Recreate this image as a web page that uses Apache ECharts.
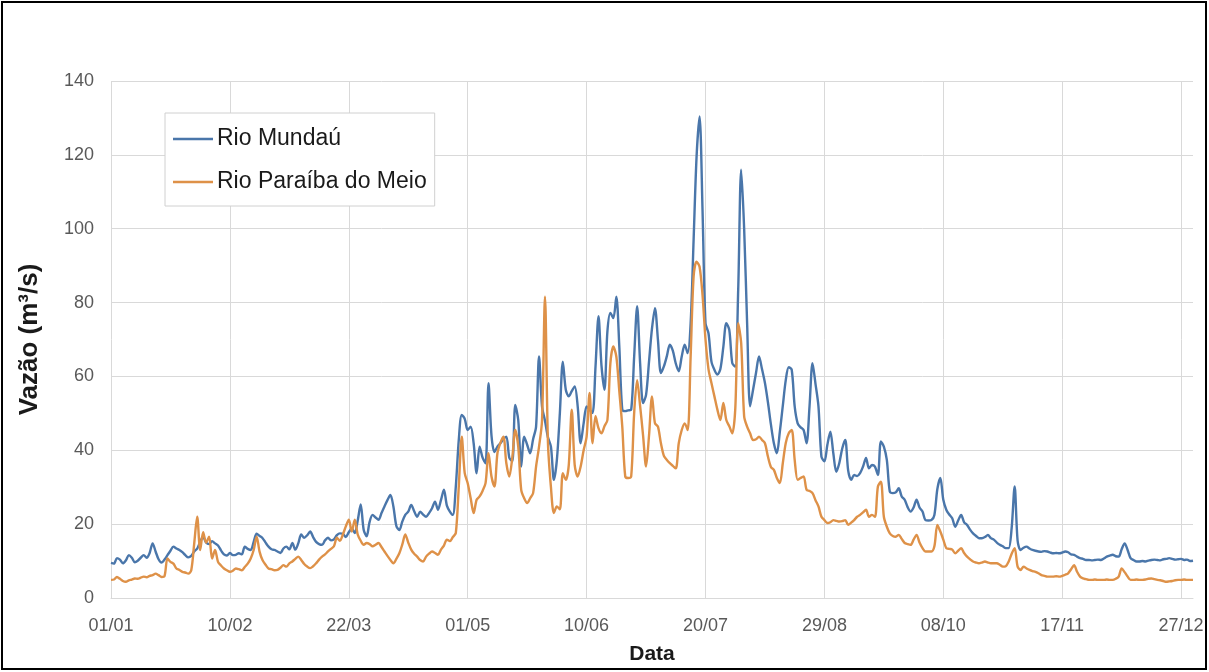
<!DOCTYPE html>
<html>
<head>
<meta charset="utf-8">
<script src="https://cdn.jsdelivr.net/npm/echarts@6/dist/echarts.min.js"></script>
<style>
  html, body { margin: 0; padding: 0; background: #fff; }
  #chart { width: 1209px; height: 672px; }
</style>
</head>
<body>
<div id="chart"></div>
<script>
// Daily discharge (m³/s), 01/01 to 31/12
const mundau = [
  9.5, 9.3, 10.8, 10.4, 9.4, 10.2, 11.6, 10.9, 9.7, 10.1,
  10.9, 11.6, 10.9, 12.2, 14.8, 12.6, 10.5, 9.6, 10.4, 11.6,
  12.8, 13.9, 13.4, 13.0, 12.4, 11.6, 11.0, 11.4, 12.6, 13.4,
  15.2, 16.6, 15.0, 14.6, 15.4, 14.8, 14.2, 12.9, 11.8, 11.5,
  12.2, 11.6, 11.7, 12.1, 11.8, 13.9, 13.3, 13.0, 15.2, 17.4,
  16.8, 16.2, 15.0, 13.9, 13.2, 13.0, 12.6, 12.2, 13.4, 13.9,
  13.2, 14.9, 13.1, 14.8, 17.2, 16.3, 17.0, 18.0, 16.5, 15.2,
  14.6, 14.4, 15.6, 16.3, 15.6, 15.9, 17.0, 17.5, 17.4, 16.5,
  17.8, 18.8, 17.6, 21.0, 25.3, 18.5, 16.7, 20.6, 22.5, 21.8,
  21.2, 23.0, 24.8, 26.5, 27.9, 24.8, 19.5, 18.4, 20.7, 22.5,
  23.4, 25.2, 23.5, 22.0, 23.4, 22.6, 22.0, 23.0, 24.3, 26.1,
  23.9, 26.5, 29.3, 25.0, 23.4, 22.5, 30.2, 42.8, 49.6, 48.5,
  45.5, 46.4, 41.9, 33.8, 41.0, 38.0, 36.5, 58.2, 44.0, 39.5,
  41.0, 41.9, 43.0, 43.7, 38.0, 37.0, 52.3, 48.2, 35.6, 43.7,
  41.5, 39.2, 43.0, 46.4, 65.4, 51.9, 48.0, 43.5, 41.0, 32.0,
  37.4, 50.0, 64.0, 56.4, 54.6, 56.0, 57.3, 51.9, 41.9, 47.3,
  51.9, 51.0, 50.1, 62.7, 76.3, 63.0, 56.4, 72.2, 77.2, 75.8,
  81.6, 68.1, 51.0, 50.6, 50.8, 51.0, 65.4, 79.0, 63.6, 52.8,
  55.0, 64.0, 73.0, 78.5, 69.9, 60.9, 62.7, 65.5, 68.6, 67.0,
  63.5, 61.4, 65.4, 68.6, 66.3, 74.4, 97.0, 119.6, 130.4, 105.0,
  74.4, 71.7, 64.0, 61.8, 60.5, 62.0, 68.0, 74.4, 72.6, 63.6,
  62.7, 83.5, 116.0, 100.0, 74.4, 51.9, 56.4, 61.0, 65.4, 62.0,
  58.2, 53.0, 47.0, 41.9, 39.2, 45.0, 52.0, 59.0, 62.5, 61.8,
  51.9, 47.3, 46.2, 45.5, 41.9, 52.0, 63.6, 58.0, 51.9, 38.3,
  37.0, 41.5, 45.0, 39.2, 34.2, 36.5, 40.5, 42.8, 34.5, 32.0,
  33.3, 33.0, 33.8, 35.6, 37.9, 35.1, 36.0, 35.6, 33.3, 42.4,
  41.0, 37.4, 28.8, 28.4, 28.6, 29.7, 27.5, 26.6, 24.6, 23.4,
  24.5, 26.6, 24.5, 23.4, 21.1, 21.0, 21.1, 22.5, 29.5, 32.5,
  26.6, 23.9, 22.6, 21.6, 19.3, 21.0, 22.5, 20.5, 19.8, 18.5,
  17.5, 16.8, 16.2, 16.2, 16.5, 17.1, 16.2, 15.8, 15.0, 14.4,
  14.0, 13.5, 13.5, 19.0, 30.2, 15.5, 13.0, 13.6, 13.9, 13.4,
  13.0, 12.8, 12.6, 12.5, 12.7, 12.6, 12.3, 12.1, 12.2, 12.1,
  12.3, 12.6, 12.4, 11.8, 11.7, 11.2, 10.8, 10.6, 10.3, 10.3,
  10.2, 10.3, 10.4, 10.3, 10.7, 11.2, 11.5, 11.7, 11.3, 11.2,
  13.2, 14.8, 13.0, 10.8, 10.3, 9.9, 9.9, 10.0, 9.9, 10.1,
  10.3, 10.4, 10.3, 10.2, 10.5, 10.6, 10.8, 10.6, 10.4, 10.5,
  10.6, 10.3, 10.4, 10.0, 10.1
];

const paraiba = [
  4.9, 5.0, 5.7, 5.2, 4.6, 4.4, 4.8, 5.0, 5.3, 5.2,
  5.5, 5.8, 5.6, 6.0, 6.2, 6.6, 6.2, 5.7, 5.9, 10.7,
  9.8, 9.3, 8.0, 7.6, 7.1, 6.9, 6.6, 7.5, 14.8, 22.0,
  13.0, 17.8, 15.0, 16.6, 10.7, 13.0, 9.8, 8.8, 8.0, 7.5,
  7.1, 7.4, 8.0, 7.8, 7.5, 8.4, 9.3, 10.7, 13.0, 16.6,
  12.5, 10.2, 9.0, 8.0, 7.8, 7.5, 7.6, 8.2, 8.9, 8.5,
  9.4, 9.9, 10.6, 11.2, 10.3, 9.2, 8.5, 8.1, 8.6, 9.4,
  10.4, 11.2, 11.8, 12.6, 13.3, 14.0, 16.3, 15.5, 17.2, 19.4,
  21.2, 18.0, 21.2, 17.2, 15.5, 14.4, 14.9, 14.6, 14.0, 14.4,
  14.9, 13.8, 12.6, 11.4, 10.3, 9.4, 10.6, 12.1, 14.5, 17.2,
  15.0, 13.1, 12.0, 11.2, 10.3, 9.9, 11.2, 12.0, 12.6, 12.2,
  11.7, 13.1, 14.2, 15.8, 15.4, 16.5, 17.6, 30.2, 43.7, 33.8,
  31.1, 27.0, 23.0, 26.6, 27.5, 29.0, 31.1, 39.2, 32.9, 30.2,
  39.2, 42.0, 43.7, 36.5, 32.9, 38.0, 45.5, 41.0, 29.3, 27.0,
  25.7, 27.0, 28.4, 35.6, 41.0, 48.0, 81.6, 42.0, 30.0, 23.0,
  24.8, 24.0, 33.8, 32.0, 36.0, 51.0, 36.0, 32.9, 35.6, 40.0,
  43.7, 55.5, 41.9, 49.2, 46.0, 44.6, 46.5, 48.2, 63.6, 68.1,
  65.4, 56.0, 46.4, 32.9, 32.5, 32.9, 50.1, 59.0, 52.0, 44.0,
  35.6, 44.0, 54.6, 47.3, 46.4, 41.9, 38.5, 37.4, 36.5, 35.8,
  35.1, 41.9, 45.5, 47.3, 45.5, 65.4, 87.1, 91.1, 89.7, 82.0,
  70.0, 62.0, 58.2, 54.6, 51.0, 48.2, 52.8, 48.2, 46.5, 44.6,
  51.0, 74.4, 69.0, 49.2, 46.4, 44.6, 42.8, 43.0, 43.7, 42.8,
  41.9, 38.3, 35.5, 34.7, 32.5, 31.1, 36.5, 42.0, 44.6, 45.5,
  37.4, 32.0, 32.5, 32.9, 29.3, 29.0, 28.4, 26.5, 24.8, 22.0,
  21.1, 20.3, 20.5, 21.1, 20.9, 20.7, 20.8, 21.1, 19.8, 20.4,
  21.1, 22.0, 22.5, 23.2, 23.9, 22.0, 22.5, 22.0, 30.2, 31.5,
  22.0, 19.3, 17.5, 16.8, 16.6, 17.1, 16.0, 14.9, 14.6, 14.4,
  15.8, 17.1, 15.0, 13.5, 12.6, 12.6, 12.6, 14.0, 19.8, 18.0,
  15.8, 13.5, 13.3, 13.1, 12.1, 12.8, 13.5, 12.2, 11.2, 10.5,
  9.9, 9.6, 9.4, 9.6, 9.9, 9.6, 9.4, 9.4, 9.4, 9.0,
  8.5, 8.6, 9.9, 12.0, 13.5, 8.5, 7.6, 8.5, 8.0, 7.6,
  7.3, 7.1, 6.7, 6.2, 6.0, 5.8, 5.8, 5.8, 5.9, 5.8,
  6.0, 6.3, 6.7, 7.8, 8.9, 7.1, 5.8, 5.3, 5.1, 4.9,
  4.9, 5.0, 4.9, 4.9, 4.9, 5.0, 4.9, 4.9, 5.2, 5.8,
  8.0, 7.0, 5.8, 4.9, 4.9, 5.0, 4.9, 4.9, 5.0, 5.2,
  5.3, 5.1, 4.9, 4.8, 4.6, 4.4, 4.5, 4.6, 4.8, 4.9,
  4.9, 5.0, 4.9, 4.9, 4.9
];

const seriesNames = ['Rio Mundaú', 'Rio Paraíba do Meio'];
const yTicks = { min: 0, max: 140, step: 20 };
const labelEvery = 40; // one tick label every 40 days

// Day labels dd/mm for a 365-day year
const days = [];
for (let i = 0; i < mundau.length; i++) {
  const d = new Date(Date.UTC(2015, 0, 1 + i));
  const dd = String(d.getUTCDate()).padStart(2, '0');
  const mm = String(d.getUTCMonth() + 1).padStart(2, '0');
  days.push(dd + '/' + mm);
}

const FONT = '"Liberation Sans", Arial, sans-serif';
const GRID = '#d9d9d9';
const BLUE = '#4a76aa';
const ORANGE = '#de9148';

const chart = echarts.init(document.getElementById('chart'), null, { renderer: 'canvas' });
chart.setOption({
  backgroundColor: '#ffffff',
  animation: false,
  textStyle: { fontFamily: FONT },
  grid: { left: 111, right: 16, top: 81, bottom: 74, containLabel: false },
  legend: {
    orient: 'vertical',
    left: 165,
    top: 113,
    padding: [12, 8, 10, 8],
    itemGap: 15,
    itemWidth: 40,
    itemHeight: 2.5,
    icon: 'rect',
    borderColor: '#d0d0d0',
    borderWidth: 1,
    backgroundColor: '#ffffff',
    textStyle: { fontSize: 23, color: '#1a1a1a', fontFamily: FONT, lineHeight: 28, padding: [0, 0, 0, -1] },
    data: seriesNames
  },
  xAxis: {
    type: 'category',
    data: days,
    boundaryGap: false,
    name: 'Data',
    nameLocation: 'middle',
    nameGap: 46,
    nameTextStyle: { fontSize: 21, fontWeight: 'bold', color: '#1a1a1a', fontFamily: FONT },
    axisLine: { show: true, lineStyle: { color: GRID, width: 1 } },
    axisTick: { show: false },
    axisLabel: { interval: labelEvery - 1, fontSize: 18, color: '#595959', margin: 19, fontFamily: FONT },
    splitLine: { show: true, interval: labelEvery - 1, lineStyle: { color: GRID, width: 1 } }
  },
  yAxis: {
    type: 'value',
    min: yTicks.min,
    max: yTicks.max,
    interval: yTicks.step,
    name: 'Vazão (m³/s)',
    nameLocation: 'middle',
    nameGap: 68,
    nameTextStyle: { fontSize: 26, fontWeight: 'bold', color: '#1a1a1a', fontFamily: FONT },
    axisLine: { show: false },
    axisTick: { show: false },
    axisLabel: { fontSize: 18, color: '#595959', margin: 17, fontFamily: FONT },
    splitLine: { show: true, lineStyle: { color: GRID, width: 1 } }
  },
  series: [
    {
      name: seriesNames[0],
      type: 'line',
      data: mundau,
      showSymbol: false,
      smooth: 0.3,
      lineStyle: { color: BLUE, width: 2.4 },
      itemStyle: { color: BLUE },
      z: 2
    },
    {
      name: seriesNames[1],
      type: 'line',
      data: paraiba,
      showSymbol: false,
      smooth: 0.3,
      lineStyle: { color: ORANGE, width: 2.4 },
      itemStyle: { color: ORANGE },
      z: 3
    }
  ],
  graphic: [
    {
      type: 'rect',
      shape: { x: 2, y: 2, width: 1204, height: 667 },
      style: { fill: 'none', stroke: '#000', lineWidth: 2 },
      silent: true
    }
  ]
});
</script>
</body>
</html>
